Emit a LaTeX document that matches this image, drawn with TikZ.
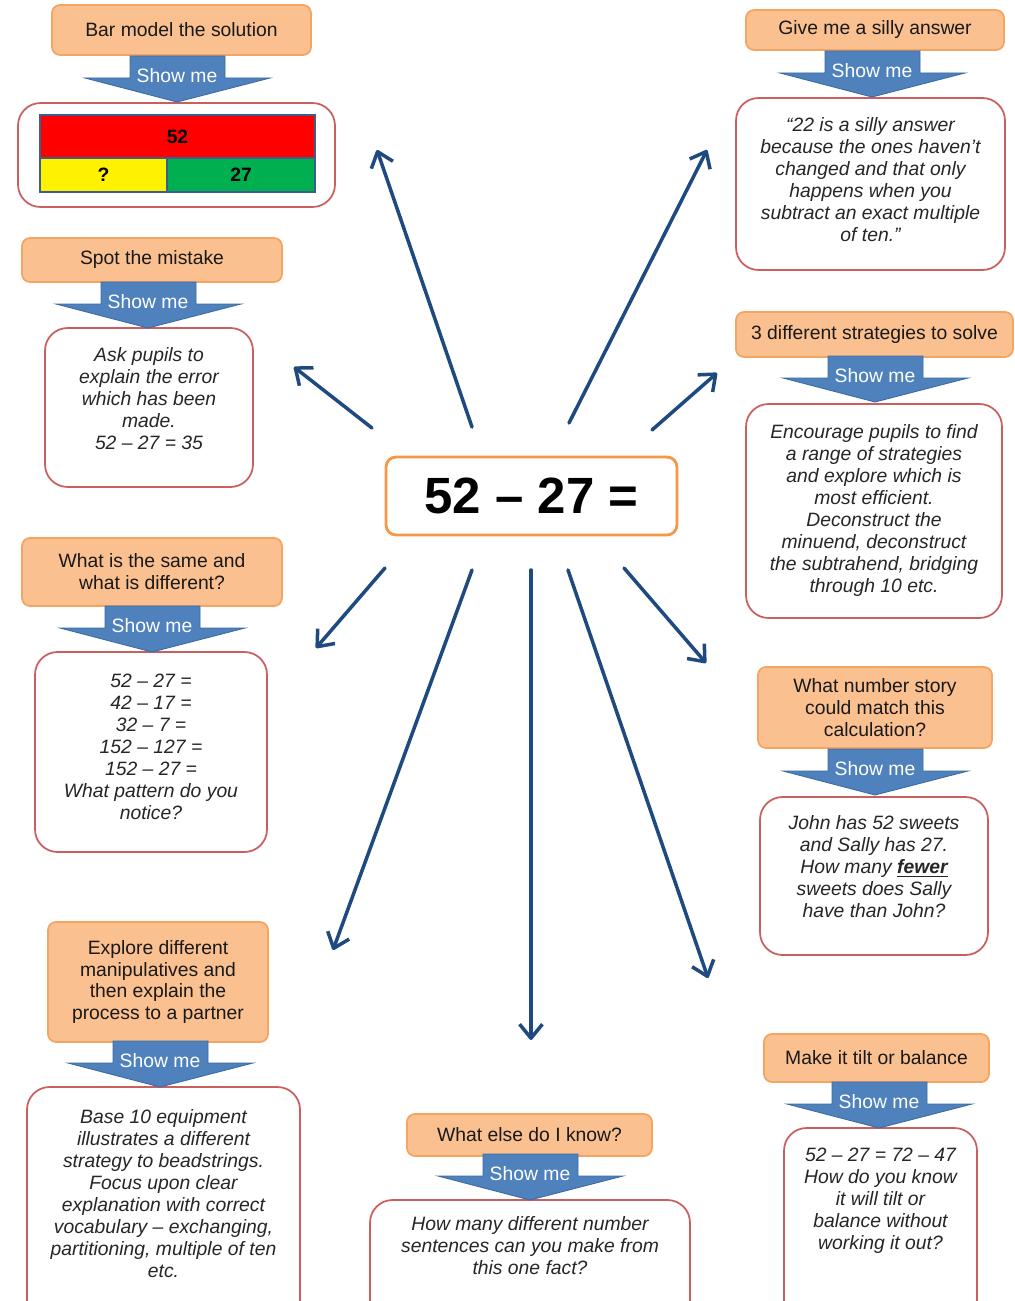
\documentclass[tikz,border=0pt]{standalone}
\usepackage{fontspec}
\setmainfont{Liberation Sans}
\usetikzlibrary{arrows.meta,positioning}

\definecolor{titlefill}{HTML}{FAC090}
\definecolor{titleline}{HTML}{F5A462}
\definecolor{boxline}{HTML}{C9605E}
\definecolor{showfill}{HTML}{4F81BD}
\definecolor{showline}{HTML}{3B6BA3}
\definecolor{spokeblue}{HTML}{1F4A80}
\definecolor{barline}{HTML}{3A5F8C}
\definecolor{bargreen}{HTML}{00B050}
\definecolor{eqline}{HTML}{F79646}

\tikzset{
  titlebox/.style={draw=titleline, fill=titlefill, line width=1pt, rounded corners=0.16cm,
    align=center, font=\fontsize{11}{12.5}\selectfont, text=black!90},
  answerbox/.style={draw=boxline, fill=white, line width=1pt, rounded corners=0.45cm},
  answertext/.style={align=center, inner sep=0pt, font=\fontsize{11}{12.5}\selectfont\itshape, text=black!85},
  spoke/.style={draw=spokeblue, line width=2pt, line cap=round,
    -{Straight Barb[length=8pt,width=13pt,line join=round]}},
  bar/.style={draw=barline, line width=1.5pt, font=\fontsize{11}{12.5}\selectfont\bfseries, inner sep=0pt},
  showme/.pic={
    \draw[fill=showfill, draw=showline, line width=0.5pt] (-47,-46) -- (48,-46) -- (48,-24)
      -- (93,-24) -- (0,0) -- (-92,-24) -- (-47,-24) -- cycle;
    \node[text=white, font=\fontsize{11}{12.5}\selectfont] (-lbl) at (0,-26) {Show me};
  }
}

\begin{document}
\begin{tikzpicture}[x=0.02cm, y=-0.02cm]
  \clip (0,0) rectangle (1014,1301);
  \fill[white] (0,0) rectangle (1014,1301);

  % centre
  \node[draw=eqline, line width=1.6pt, rounded corners=0.2cm, minimum width=5.82cm, minimum height=1.56cm,
    font=\fontsize{29}{34}\selectfont\bfseries] (eq) at (531.5,496) {52 – 27 =};

  % bar model
  \node[titlebox, minimum width=5.18cm, minimum height=1cm] (bar) at (181.5,30) {Bar model the solution};
  \node[answerbox, minimum width=6.34cm, minimum height=2.08cm] (barans) at (176.5,155) {};
  \pic (barshow) at (177,102) {showme};
  \node[bar, fill=red, minimum width=5.5cm, minimum height=0.86cm] (whole) at (177.5,136.5) {52};
  \node[bar, fill=yellow, minimum width=2.54cm, minimum height=0.68cm] (part) at (103.5,175) {?};
  \node[bar, fill=bargreen, minimum width=2.96cm, minimum height=0.68cm] (known) at (241,175) {27};

  % spot the mistake
  \node[titlebox, minimum width=5.2cm, minimum height=0.88cm] (spot) at (152,260) {Spot the mistake};
  \node[answerbox, minimum width=4.16cm, minimum height=3.18cm] (spotans) at (149,407.5) {};
  \pic (spotshow) at (148,328) {showme};
  \node[answertext, below=0.4cm of spotans.north] (spottext)
    {Ask pupils to\\explain the error\\which has been\\made.\\52 – 27 = 35};

  % same and different
  \node[titlebox, minimum width=5.2cm, minimum height=1.36cm] (same) at (152,572)
    {What is the same and\\what is different?};
  \node[answerbox, minimum width=4.64cm, minimum height=4cm] (sameans) at (151,752) {};
  \pic (sameshow) at (152,652) {showme};
  \node[answertext, below=0.46cm of sameans.north] (sametext)
    {52 – 27 =\\42 – 17 =\\32 – 7 =\\152 – 127 =\\152 – 27 =\\What pattern do you\\notice?};

  % manipulatives
  \node[titlebox, minimum width=4.4cm, minimum height=2.4cm] (explore) at (158,982)
    {Explore different\\manipulatives and\\then explain the\\process to a partner};
  \node[answerbox, minimum width=5.46cm, minimum height=4.86cm] (exploreans) at (163.5,1208.5) {};
  \pic (exploreshow) at (160,1087) {showme};
  \node[answertext, below=0.46cm of exploreans.north] (exploretext)
    {Base 10 equipment\\illustrates a different\\strategy to beadstrings.\\Focus upon clear\\explanation with correct\\vocabulary – exchanging,\\partitioning, multiple of ten\\etc.};

  % what else
  \node[titlebox, minimum width=4.9cm, minimum height=0.84cm] (know) at (529.5,1135) {What else do I know?};
  \node[answerbox, minimum width=6.4cm, minimum height=2.6cm] (knowans) at (530,1265) {};
  \pic (knowshow) at (530,1200) {showme};
  \node[answertext, below=0.34cm of knowans.north] (knowtext)
    {How many different number\\sentences can you make from\\this one fact?};

  % tilt or balance
  \node[titlebox, minimum width=4.5cm, minimum height=0.96cm] (tilt) at (876.5,1058) {Make it tilt or balance};
  \node[answerbox, minimum width=3.86cm, minimum height=4.04cm] (tiltans) at (880.5,1229) {};
  \pic (tiltshow) at (879,1128) {showme};
  \node[answertext, below=0.42cm of tiltans.north] (tilttext)
    {52 – 27 = 72 – 47\\How do you know\\it will tilt or\\balance without\\working it out?};

  % number story
  \node[titlebox, minimum width=4.68cm, minimum height=1.62cm] (story) at (875,707.5)
    {What number story\\could match this\\calculation?};
  \node[answerbox, minimum width=4.56cm, minimum height=3.16cm] (storyans) at (874,876) {};
  \pic (storyshow) at (875,795) {showme};
  \node[answertext, below=0.38cm of storyans.north] (storytext)
    {John has 52 sweets\\and Sally has 27.\\How many \textbf{\underline{fewer}}\\sweets does Sally\\have than John?};

  % strategies
  \node[titlebox, minimum width=5.54cm, minimum height=0.9cm] (ways) at (874.5,334.5) {3 different strategies to solve};
  \node[answerbox, minimum width=5.12cm, minimum height=4.28cm] (waysans) at (874,511) {};
  \pic (waysshow) at (875,402) {showme};
  \node[answertext, below=0.42cm of waysans.north] (waystext)
    {Encourage pupils to find\\a range of strategies\\and explore which is\\most efficient.\\Deconstruct the\\minuend, deconstruct\\the subtrahend, bridging\\through 10 etc.};

  % silly answer
  \node[titlebox, minimum width=5.16cm, minimum height=0.8cm] (silly) at (875,30) {Give me a silly answer};
  \node[answerbox, minimum width=5.38cm, minimum height=3.44cm] (sillyans) at (870.5,184) {};
  \pic (sillyshow) at (872,97) {showme};
  \node[answertext, below=0.4cm of sillyans.north] (sillytext)
    {“22 is a silly answer\\because the ones haven’t\\changed and that only\\happens when you\\subtract an exact multiple\\of ten.”};

  % spokes
  \coordinate (bar-from) at (472,427);   \coordinate (bar-to) at (377,150);
  \coordinate (spot-from) at (372,428);  \coordinate (spot-to) at (294,367);
  \coordinate (silly-from) at (569,423); \coordinate (silly-to) at (707,150);
  \coordinate (ways-from) at (652,430);  \coordinate (ways-to) at (717,373);
  \coordinate (same-from) at (385,568);  \coordinate (same-to) at (316,648);
  \coordinate (explore-from) at (472,570); \coordinate (explore-to) at (333,950);
  \coordinate (know-from) at (531,570);  \coordinate (know-to) at (531,1040);
  \coordinate (tilt-from) at (568,570);  \coordinate (tilt-to) at (708,978);
  \coordinate (story-from) at (624,568); \coordinate (story-to) at (706,663);

  \draw[spoke] (bar-from) -- (bar-to);
  \draw[spoke] (spot-from) -- (spot-to);
  \draw[spoke] (silly-from) -- (silly-to);
  \draw[spoke] (ways-from) -- (ways-to);
  \draw[spoke] (same-from) -- (same-to);
  \draw[spoke] (explore-from) -- (explore-to);
  \draw[spoke] (know-from) -- (know-to);
  \draw[spoke] (tilt-from) -- (tilt-to);
  \draw[spoke] (story-from) -- (story-to);
\end{tikzpicture}
\end{document}
